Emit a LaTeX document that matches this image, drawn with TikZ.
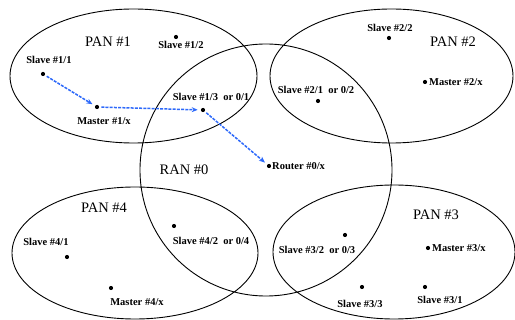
\documentclass[tikz,border=0pt]{standalone}
\usepackage{fontspec}
\setmainfont{Liberation Serif}
\usetikzlibrary{arrows.meta}
\definecolor{hopblue}{RGB}{45,105,250}

\begin{document}
\begin{tikzpicture}[x = 1pt, y = -1pt,
	dot/.style = {circle, fill = black, inner sep = 0pt, minimum size = 4.2pt},
	lbl/.style = {font = \fontsize{10.5}{12}\selectfont\bfseries, inner sep = 0pt},
	net/.style = {font = \fontsize{14.5}{16}\selectfont, inner sep = 0pt},
	hop/.style = {hopblue, line width = 1.5pt, dash pattern = on 3pt off 1.2pt,
		-{Stealth[length = 6pt, width = 5pt]}, shorten > = 3pt, shorten < = 2pt}]
	\useasboundingbox (0,0) rectangle (515,320);
	\draw[line width = 0.9pt] (133.5,76) ellipse [x radius = 123.5pt, y radius = 67pt]
		(391.5,76) ellipse [x radius = 121.5pt, y radius = 67pt]
		(135,253) ellipse [x radius = 123pt, y radius = 66pt]
		(394,252) ellipse [x radius = 121pt, y radius = 67pt]
		(266,170) circle [radius = 126pt];
	% PAN #1
	\node[net] (pan1) at (108,42) {PAN \#1};
	\node[dot] (s11) at (43,74) {};
	\node[dot] (s12) at (176,37) {};
	\node[dot] (m1) at (97,107) {};
	\node[dot] (s13) at (203,110) {};
	\node[lbl] (s11l) at (49,60) {Slave \#1/1};
	\node[lbl] (s12l) at (181,45) {Slave \#1/2};
	\node[lbl] (m1l) at (104,121) {Master \#1/x};
	\node[lbl] (s13l) at (211,97) {Slave \#1/3\ \ or 0/1};
	% PAN #2
	\node[net] (pan2) at (453,42) {PAN \#2};
	\node[dot] (s22) at (389,38) {};
	\node[dot] (m2) at (425,82) {};
	\node[dot] (s21) at (318,101) {};
	\node[lbl] (s22l) at (390,28) {Slave \#2/2};
	\node[lbl, anchor = west] (m2l) at (429,82) {Master \#2/x};
	\node[lbl] (s21l) at (316,90) {Slave \#2/1\ \ or 0/2};
	% RAN #0
	\node[net] (ran0) at (184,170) {RAN \#0};
	\node[dot] (r0) at (269,166) {};
	\node[lbl, anchor = west] (r0l) at (272,166) {Router \#0/x};
	% PAN #4
	\node[net] (pan4) at (104,208) {PAN \#4};
	\node[dot] (s41) at (67,257) {};
	\node[dot] (s42) at (174,226) {};
	\node[dot] (m4) at (111,288) {};
	\node[lbl] (s41l) at (46,242) {Slave \#4/1};
	\node[lbl] (s42l) at (211,241) {Slave \#4/2\ \ or 0/4};
	\node[lbl] (m4l) at (137,302) {Master \#4/x};
	% PAN #3
	\node[net] (pan3) at (436,215) {PAN \#3};
	\node[dot] (s32) at (345,235) {};
	\node[dot] (m3) at (428,248) {};
	\node[dot] (s33) at (362,287) {};
	\node[dot] (s31) at (425,287) {};
	\node[lbl] (s32l) at (317,250) {Slave \#3/2\ \ or 0/3};
	\node[lbl, anchor = west] (m3l) at (432,248) {Master \#3/x};
	\node[lbl] (s33l) at (360,304) {Slave \#3/3};
	\node[lbl] (s31l) at (440,300) {Slave \#3/1};
	% route
	\draw[hop] (s11) -- (m1);
	\draw[hop] (m1) -- (s13);
	\draw[hop] (s13) -- (r0);
\end{tikzpicture}
\end{document}
